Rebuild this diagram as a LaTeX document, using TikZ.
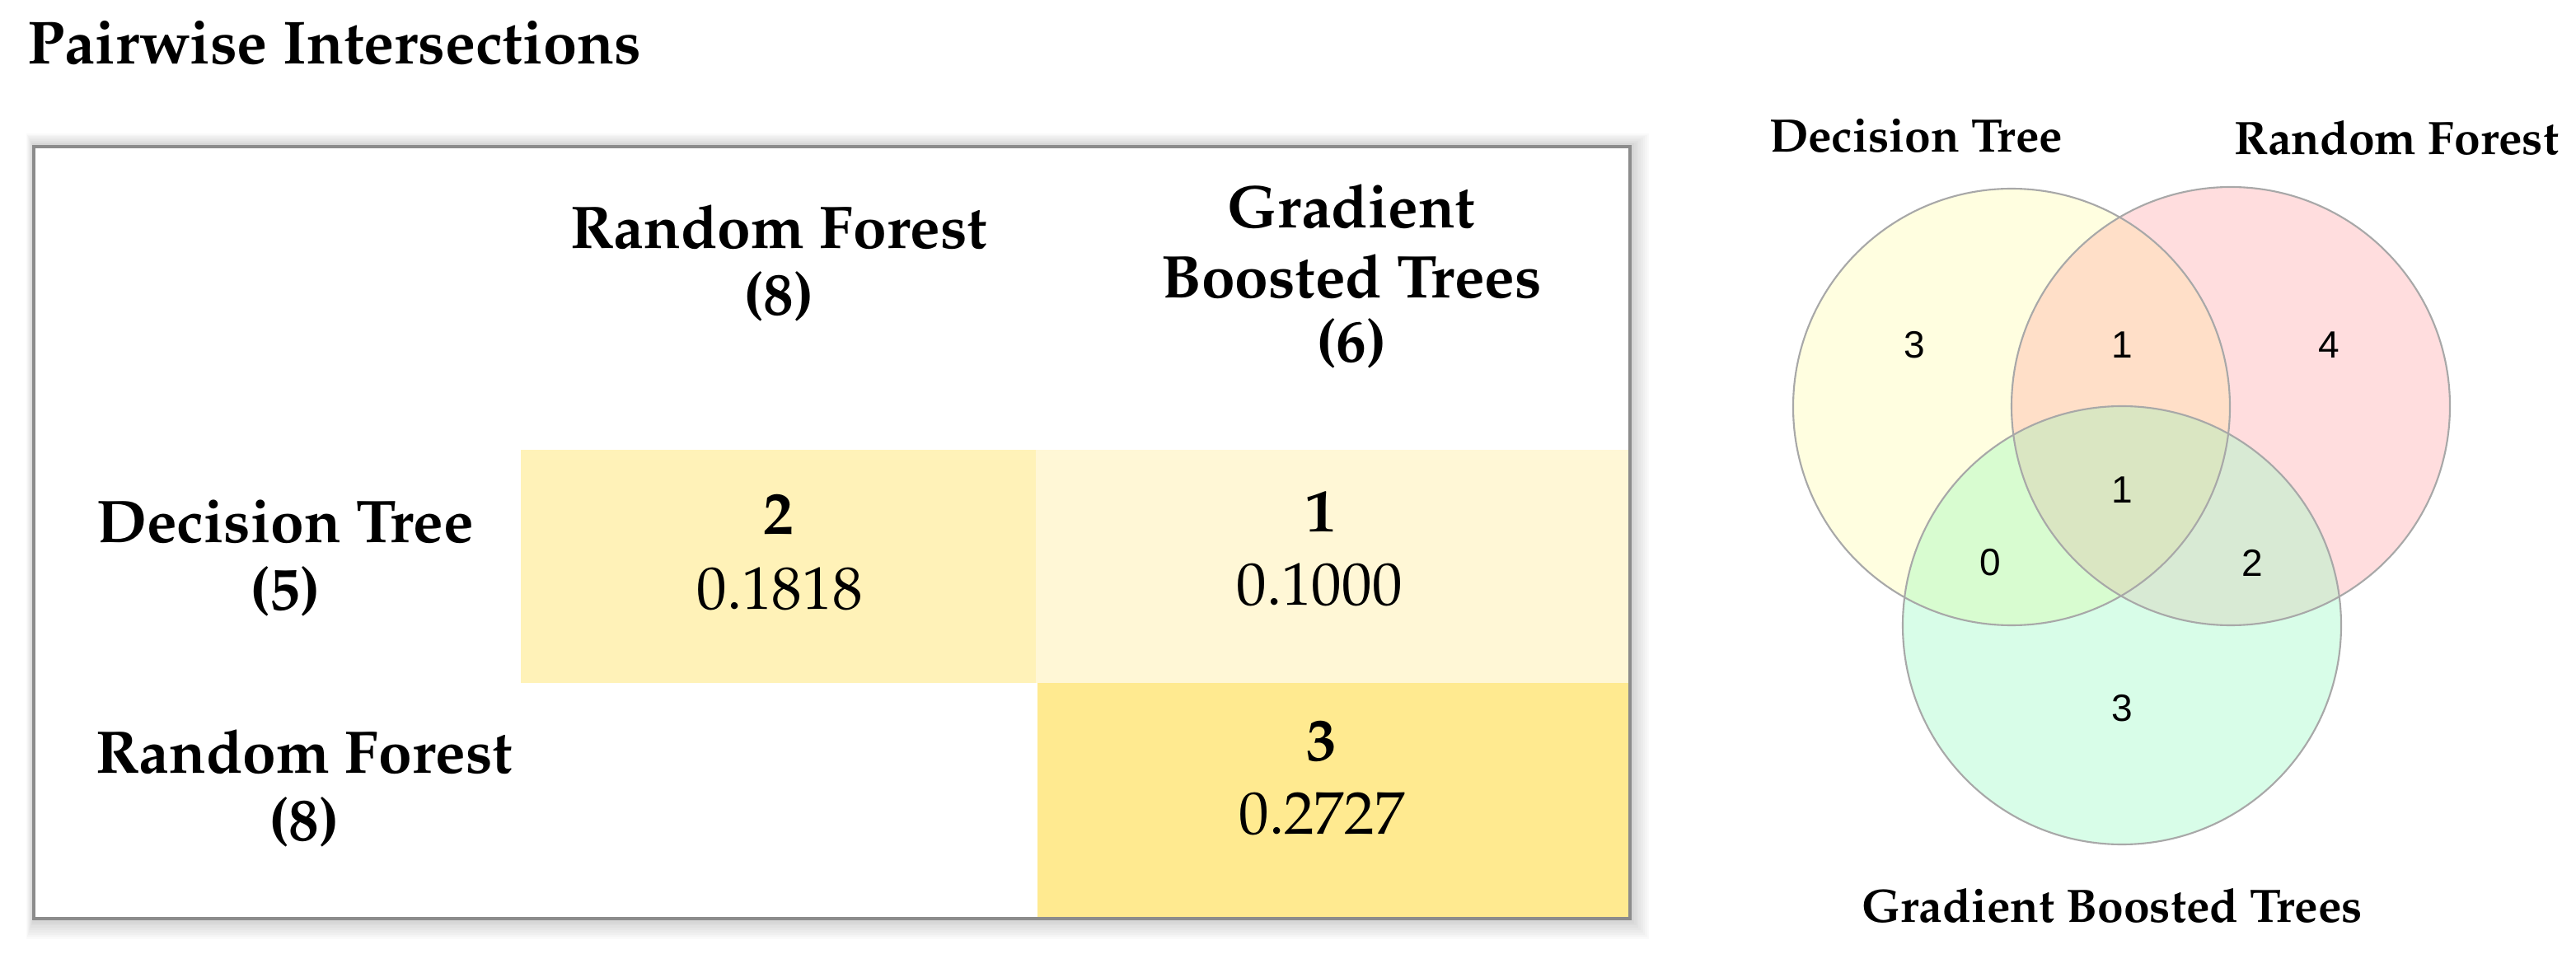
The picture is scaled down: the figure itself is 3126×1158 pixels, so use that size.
\documentclass[tikz,border=0pt]{standalone}
\usepackage{fontspec}
\usepackage[T1,TU]{fontenc}
\newfontfamily\arialf{Liberation Sans}
\newcommand\palf{\fontencoding{T1}\fontfamily{ppl}\selectfont}
\definecolor{cellA}{RGB}{255,242,184}
\definecolor{cellB}{RGB}{255,247,214}
\definecolor{cellC}{RGB}{255,234,144}
\definecolor{boxline}{RGB}{140,140,140}
\definecolor{vDT}{RGB}{255,254,224}
\definecolor{vRF}{RGB}{255,221,222}
\definecolor{vGB}{RGB}{216,253,232}
\definecolor{vDR}{RGB}{255,223,200}
\definecolor{vDG}{RGB}{216,252,208}
\definecolor{vRG}{RGB}{216,234,212}
\definecolor{vAll}{RGB}{218,230,194}
\definecolor{vline}{RGB}{168,168,168}
\tikzset{
  hdr/.style={font=\palf\bfseries\fontsize{20.8}{24}\selectfont, inner sep=0pt, anchor=base},
  num/.style={font=\palf\bfseries\fontsize{20.8}{24}\selectfont, inner sep=0pt, anchor=base},
  val/.style={font=\palf\fontsize{20.8}{24}\selectfont, inner sep=0pt, anchor=base},
  vlab/.style={font=\palf\bfseries\fontsize{16.2}{19}\selectfont, inner sep=0pt, anchor=base},
  vnum/.style={font=\arialf\fontsize{13.1}{15}\selectfont, inner sep=0pt, anchor=center},
  vcirc/.style={draw=vline, line width=0.6pt}
}
\begin{document}
\begin{tikzpicture}[x=0.01cm, y=-0.01cm]
\useasboundingbox (0,0) rectangle (3126,1158);
\fill[white] (0,0) rectangle (3126,1158);
% title
\node[font=\palf\bfseries\fontsize{21}{25}\selectfont, inner sep=0pt, anchor=base west] (title) at (33,78) {Pairwise Intersections};
% shadow
\foreach \i in {1,...,9} {
  \fill[black, opacity=0.018] ({41-\i*1},{178-\i*1.8}) rectangle ({1978+\i*2.6},{1115+\i*2.8});
}
% table
\fill[white] (41,178) rectangle (1978,1115);
\fill[cellA] (632,546) rectangle (1257,829);
\fill[cellB] (1257,546) rectangle (1976,829);
\fill[cellC] (1259,829) rectangle (1976,1115);
\draw[boxline, line width=1.2pt] (41,178) rectangle (1978,1115);
% column headers
\node[hdr] (rfh1) at (945,302) {Random Forest};
\node[hdr] (rfh2) at (945,383) {(8)};
\node[hdr] (gbh1) at (1640,277) {Gradient};
\node[hdr] (gbh2) at (1640,362) {Boosted Trees};
\node[hdr] (gbh3) at (1640,440) {(6)};
% row headers
\node[hdr] (dtr1) at (346,659) {Decision Tree};
\node[hdr] (dtr2) at (346,741) {(5)};
\node[hdr] (rfr1) at (369,938) {Random Forest};
\node[hdr] (rfr2) at (369,1020) {(8)};
% cells
\node[num] (c1a) at (945,649) {2};
\node[val] (c1b) at (946,739) {0.1818};
\node[num] (c2a) at (1603,646) {1};
\node[val] (c2b) at (1601,735) {0.1000};
\node[num] (c3a) at (1604,923) {3};
\node[val] (c3b) at (1604,1012) {0.2727};
% Venn
\coordinate (cDT) at (2441,494);
\coordinate (cRF) at (2707,493);
\coordinate (cGB) at (2575,759);
\fill[vDT] (cDT) circle (265);
\fill[vRF] (cRF) circle (266);
\fill[vGB] (cGB) circle (266);
\begin{scope}
  \clip (cDT) circle (265);
  \fill[vDR] (cRF) circle (266);
  \fill[vDG] (cGB) circle (266);
\end{scope}
\begin{scope}
  \clip (cRF) circle (266);
  \fill[vRG] (cGB) circle (266);
\end{scope}
\begin{scope}
  \clip (cDT) circle (265);
  \clip (cRF) circle (266);
  \fill[vAll] (cGB) circle (266);
\end{scope}
\draw[vcirc] (cDT) circle (265);
\draw[vcirc] (cRF) circle (266);
\draw[vcirc] (cGB) circle (266);
\node[vlab] (vl1) at (2325,185) {Decision Tree};
\node[vlab] (vl2) at (2908,188) {Random Forest};
\node[vlab] (vl3) at (2563,1119) {Gradient Boosted Trees};
\node[vnum] (n1) at (2323,419) {3};
\node[vnum] (n2) at (2575,419) {1};
\node[vnum] (n3) at (2826,419) {4};
\node[vnum] (n4) at (2575,595) {1};
\node[vnum] (n5) at (2415,683) {0};
\node[vnum] (n6) at (2733,683) {2};
\node[vnum] (n7) at (2575,860) {3};
\end{tikzpicture}
\end{document}
